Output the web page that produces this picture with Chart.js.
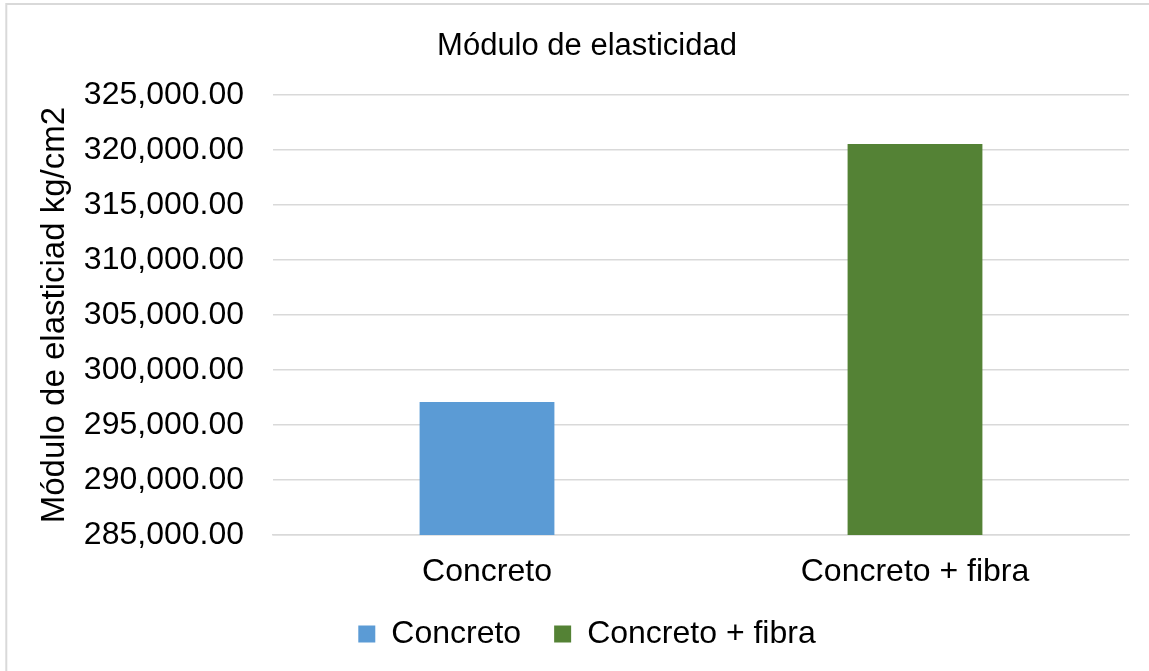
<!DOCTYPE html>
<html>
<head>
<meta charset="utf-8">
<script src="https://cdn.jsdelivr.net/npm/chart.js@4/dist/chart.umd.min.js"></script>
<style>
  html, body { margin: 0; padding: 0; background: #ffffff; }
  #wrap { width: 1149px; height: 671px; }
</style>
</head>
<body>
<div id="wrap"><canvas id="chart" width="1149" height="671"></canvas></div>
<script>
// Categories and measured values (kg/cm2)
const categories = ['Concreto', 'Concreto + fibra'];
const modulusValues = [297100, 320560];
const barColors = ['#5b9bd5', '#548235'];

// Value axis range
const yMin = 285000;
const yMax = 325000;
const yStep = 5000;

const chartTitle = 'Módulo de elasticidad';
const yAxisTitle = 'Módulo de elasticiad kg/cm2';

const FONT = '"Liberation Sans", Arial, sans-serif';

// Thin frame around the whole chart area
const framePlugin = {
  id: 'frame',
  beforeDraw(chart) {
    const ctx = chart.ctx;
    ctx.save();
    ctx.fillStyle = '#ffffff';
    ctx.fillRect(0, 0, chart.width, chart.height);
    ctx.strokeStyle = '#d9d9d9';
    ctx.lineWidth = 2;
    ctx.strokeRect(6.3, 4, chart.width + 20, chart.height + 20);
    ctx.restore();
  }
};

new Chart(document.getElementById('chart'), {
  type: 'bar',
  data: {
    labels: categories,
    datasets: [{
      label: yAxisTitle,
      data: modulusValues,
      backgroundColor: barColors,
      borderWidth: 0,
      categoryPercentage: 1,
      barPercentage: 0.315
    }]
  },
  options: {
    responsive: false,
    animation: false,
    layout: { padding: { left: 45, right: 20, top: 0, bottom: 11 } },
    plugins: {
      title: {
        display: true,
        text: chartTitle,
        color: '#000000',
        font: { family: FONT, size: 31, weight: 'normal' },
        padding: { top: 28, bottom: 30 }
      },
      legend: {
        display: true,
        position: 'bottom',
        labels: {
          color: '#000000',
          font: { family: FONT, size: 32 },
          boxWidth: 17,
          boxHeight: 17,
          padding: 33,
          generateLabels(chart) {
            return categories.map((c, i) => ({
              text: c,
              fillStyle: barColors[i],
              strokeStyle: barColors[i],
              lineWidth: 0,
              hidden: false,
              index: i
            }));
          }
        }
      },
      tooltip: { enabled: false }
    },
    scales: {
      x: {
        afterFit(scale) { scale.height = 50; },
        grid: { display: false, drawTicks: false },
        border: { display: true, color: '#d9d9d9', width: 1.5 },
        ticks: {
          color: '#000000',
          font: { family: FONT, size: 32 },
          padding: 18,
          maxRotation: 0
        }
      },
      y: {
        min: yMin,
        max: yMax,
        afterFit(scale) { scale.width = 228; },
        grid: { color: '#d9d9d9', lineWidth: 1.5, drawTicks: false },
        border: { display: false },
        ticks: {
          stepSize: yStep,
          color: '#000000',
          padding: 29,
          font: { family: FONT, size: 32 },
          callback: v => Number(v).toLocaleString('en-US', { minimumFractionDigits: 2, maximumFractionDigits: 2 })
        },
        title: {
          display: true,
          text: yAxisTitle,
          color: '#000000',
          font: { family: FONT, size: 33, lineHeight: 0.62 },
          padding: { top: 0, bottom: 0 }
        }
      }
    }
  },
  plugins: [framePlugin]
});
</script>
</body>
</html>
